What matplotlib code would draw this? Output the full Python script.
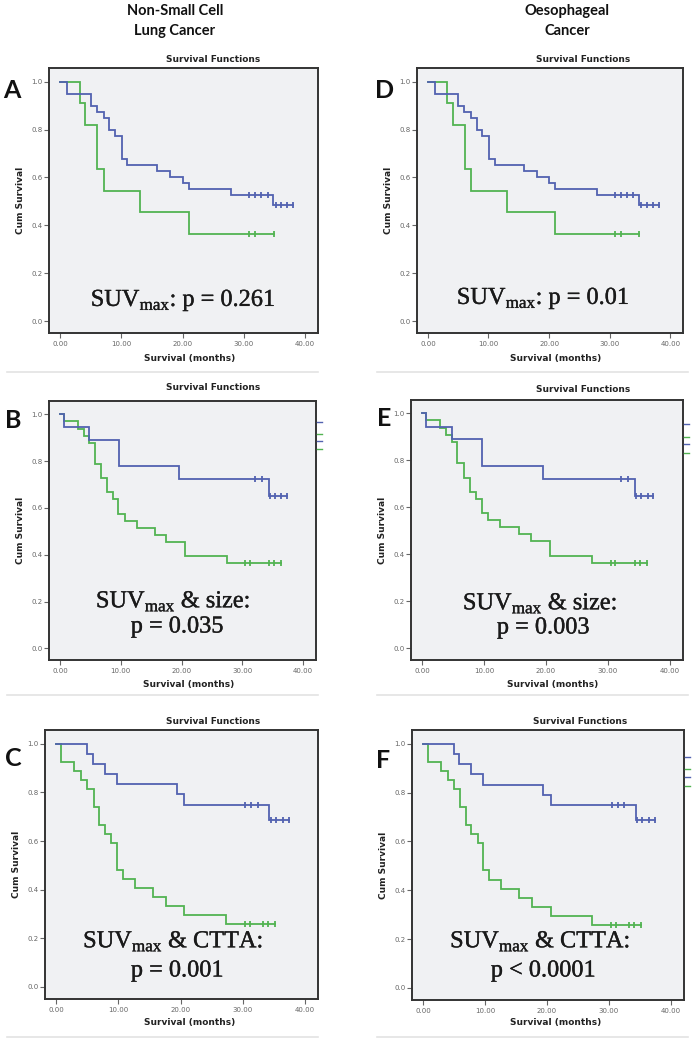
import matplotlib
matplotlib.use("Agg")
import matplotlib.pyplot as plt
from matplotlib.lines import Line2D
import matplotlib.patheffects as pe

W, H = 699, 1039

# ---------------- data ----------------
# Scenario 1: SUVmax (panels A and D)
s1_blue_t = [0, 1.1, 5.0, 6.0, 7.1, 8.05, 9.0, 10.1, 11.0, 15.9, 18.0, 20.0, 21.0, 27.9, 34.8]
s1_blue_s = [1.0, 0.95, 0.90, 0.875, 0.85, 0.80, 0.775, 0.675, 0.65, 0.625, 0.60, 0.575, 0.55, 0.525, 0.486]
s1_blue_c = [30.9, 31.8, 32.8, 33.9, 35.2, 36.1, 37.1, 38.1]
s1_green_t = [0, 3.2, 4.1, 6.1, 7.1, 13.0, 21.0]
s1_green_s = [1.0, 0.909, 0.818, 0.636, 0.545, 0.455, 0.364]
s1_green_c = [30.9, 31.8, 34.9]

# Scenario 2: SUVmax & size (panels B and E)
s2_blue_t = [0, 0.64, 4.8, 9.7, 19.5, 34.3]
s2_blue_s = [1.0, 0.944, 0.889, 0.778, 0.722, 0.65]
s2_blue_c = [32.1, 33.2, 34.5, 35.3, 36.4, 37.3]
s2_green_t = [0, 0.64, 2.9, 3.9, 4.8, 5.7, 6.8, 7.8, 8.7, 9.6, 10.7, 12.6, 15.6, 17.5, 20.6, 27.4]
s2_green_s = [1.0, 0.970, 0.939, 0.909, 0.879, 0.788, 0.727, 0.667, 0.636, 0.576, 0.545, 0.515,
              0.485, 0.455, 0.394, 0.364]
s2_green_c = [30.4, 31.2, 34.3, 35.2, 36.3]

# Scenario 3: SUVmax & CTTA (panels C and F)
s3_blue_t = [0, 4.9, 5.85, 7.8, 9.7, 19.4, 20.6, 34.3]
s3_blue_s = [1.0, 0.958, 0.917, 0.875, 0.833, 0.792, 0.75, 0.688]
s3_blue_c = [30.4, 31.4, 32.4, 34.5, 35.4, 36.4, 37.4]
s3_green_t = [0, 0.8, 2.9, 4.0, 4.9, 6.0, 6.9, 7.8, 8.8, 9.7, 10.7, 12.6, 15.5, 17.6, 20.6, 27.3]
s3_green_s = [1.0, 0.926, 0.889, 0.852, 0.815, 0.741, 0.667, 0.630, 0.593, 0.481, 0.444, 0.407,
              0.370, 0.333, 0.296, 0.259]
s3_green_c = [30.3, 31.2, 33.2, 34.1, 35.2]

x_ticks = [0, 10, 20, 30, 40]
x_ticklabels = ["0.00", "10.00", "20.00", "30.00", "40.00"]
y_ticks = [0.0, 0.2, 0.4, 0.6, 0.8, 1.0]
y_ticklabels = ["0.0", "0.2", "0.4", "0.6", "0.8", "1.0"]

col_headers = ["Non-Small Cell\nLung Cancer", "Oesophageal\nCancer"]
panel_letters = ["A", "B", "C", "D", "E", "F"]
annot_lines = [
    [r"SUV$_{\mathregular{max}}$: p = 0.261"],
    [r"SUV$_{\mathregular{max}}$ & size:", "p = 0.035"],
    [r"SUV$_{\mathregular{max}}$ & CTTA:", "p = 0.001"],
    [r"SUV$_{\mathregular{max}}$: p = 0.01"],
    [r"SUV$_{\mathregular{max}}$ & size:", "p = 0.003"],
    [r"SUV$_{\mathregular{max}}$ & CTTA:", "p < 0.0001"],
]

BLUE = "#5262b0"
GREEN = "#52b352"
BG = "#f0f1f3"

scen = [
    (s1_blue_t, s1_blue_s, s1_blue_c, s1_green_t, s1_green_s, s1_green_c),
    (s2_blue_t, s2_blue_s, s2_blue_c, s2_green_t, s2_green_s, s2_green_c),
    (s3_blue_t, s3_blue_s, s3_blue_c, s3_green_t, s3_green_s, s3_green_c),
]

# layout (pixel boxes: x0, y0, x1, y1)
boxes = [
    (49, 68, 318, 333), (49, 401, 316, 660), (45, 730, 318, 999),
    (417, 68, 683, 333), (411, 400, 683, 660), (412, 730, 684, 1000),
]
titles_xy = [(213, 60), (213, 388), (213, 722), (583, 60), (583, 390), (580, 722)]
letters_xy = [(12, 91), (13, 421), (13, 758), (385, 90), (384, 418), (383, 760)]
annot_xy = [
    [(183, 301)], [(173, 602), (177, 627)], [(173, 942), (177, 971)],
    [(543, 299)], [(540, 604), (543, 628)], [(540, 942), (543, 971)],
]
xlabel_y = [358, 684, 1022, 358, 684, 1022]

XLIM = (-1.8, 42.1)
YLIM = (-0.05, 1.057)

fig = plt.figure(figsize=(W / 100, H / 100), dpi=100)
fig.patch.set_facecolor("white")


def fx(px):
    return px / W


def fy(py):
    return 1 - py / H


def km(ax, t, s, c, color):
    end = max(c) if c else t[-1]
    xs = list(t) + [end]
    ys = list(s) + [s[-1]]
    ax.step(xs, ys, where="post", color=color, lw=1.3, solid_joinstyle="miter")
    # censor marks at the survival level valid at each censored time
    cy = []
    for ct in c:
        val = s[0]
        for ti, si in zip(t, s):
            if ti <= ct:
                val = si
        cy.append(val)
    ax.plot(c, cy, ls="none", marker="|", ms=5, mew=1.3, color=color)


for i, (x0, y0, x1, y1) in enumerate(boxes):
    ax = fig.add_axes([fx(x0), fy(y1), fx(x1 - x0), (y1 - y0) / H])
    ax.set_facecolor(BG)
    bt, bs, bc, gt, gs, gc = scen[i % 3]
    km(ax, gt, gs, gc, GREEN)
    km(ax, bt, bs, bc, BLUE)
    ax.set_xlim(*XLIM)
    ax.set_ylim(*YLIM)
    ax.set_xticks(x_ticks)
    ax.set_xticklabels(x_ticklabels)
    ax.set_yticks(y_ticks)
    ax.set_yticklabels(y_ticklabels)
    ax.tick_params(axis="both", direction="out", length=3.5, width=0.8, colors="#666666",
                   labelsize=5, pad=2)
    ax.tick_params(axis="y", pad=1)
    for sp in ax.spines.values():
        sp.set_color("#333333")
        sp.set_linewidth(1.4)
    ax.set_ylabel("Cum Survival", fontsize=6.5, fontweight="bold", color="#222222", labelpad=5)
    # titles
    tx, ty = titles_xy[i]
    fig.text(fx(tx), fy(ty), "Survival Functions", ha="center", va="center",
             fontsize=6.5, fontweight="bold", color="#222222")
    fig.text(fx((x0 + x1) / 2 + (6 if i % 3 != 2 else 8)), fy(xlabel_y[i]), "Survival (months)",
             ha="center", va="center", fontsize=6.5, fontweight="bold", color="#222222")
    lx, ly = letters_xy[i]
    fig.text(fx(lx), fy(ly), panel_letters[i], ha="center", va="center",
             fontsize=18, fontweight="bold", family="Lato", color="#111111")
    for line, (ax_, ay_) in zip(annot_lines[i], annot_xy[i]):
        fig.text(fx(ax_), fy(ay_), line, ha="center", va="center", fontsize=17.5,
                 family="Liberation Serif", color="#1a1a1a",
                 path_effects=[pe.withStroke(linewidth=0.25, foreground="#1a1a1a")])

# column headers
fig.text(fx(175), fy(21), col_headers[0], ha="center", va="center", fontsize=10.5,
         fontweight="bold", family="Lato", linespacing=1.55, color="#111111")
fig.text(fx(567), fy(21), col_headers[1], ha="center", va="center", fontsize=10.5,
         fontweight="bold", family="Lato", linespacing=1.55, color="#111111")

# separators
for (xa, xb) in [(7, 318), (377, 688)]:
    for yy in [372, 695, 1037]:
        fig.add_artist(Line2D([fx(xa), fx(xb)], [fy(yy), fy(yy)], color="#e3e3e3", lw=1.2))

# clipped legend stubs at right of B, E, F
for (xr, ys) in [(317, [422, 434, 441, 449]), (684, [424, 437, 444, 453]), (685, [757, 769, 777, 786])]:
    for k, yy in enumerate(ys):
        col = BLUE if k % 2 == 0 else GREEN
        fig.add_artist(Line2D([fx(xr), fx(xr + 5)], [fy(yy), fy(yy)], color=col, lw=1.0))

fig.savefig("out.png", dpi=100)
